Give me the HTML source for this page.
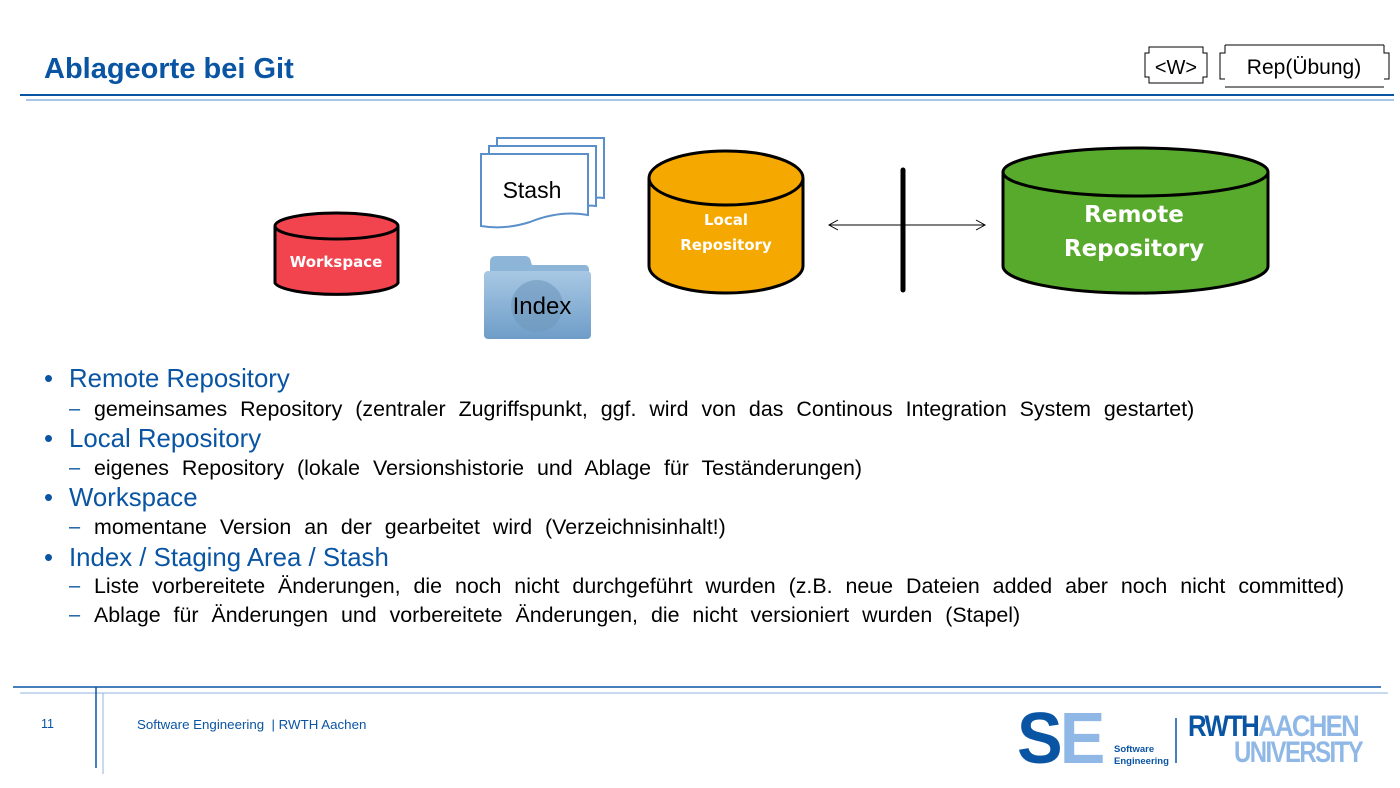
<!DOCTYPE html>
<html><head><meta charset="utf-8"><style>
body{margin:0;width:1400px;height:788px;background:#fff;position:relative;overflow:hidden;font-family:"Liberation Sans",Arial,sans-serif}
.a{position:absolute;white-space:nowrap}
.b{color:#0a55a3;font-size:25.8px}
.s{color:#000;font-size:21.4px;word-spacing:7px}
.d{color:#0a55a3;font-size:20px}
</style></head><body>
<div class="a" style="left:44px;top:53px;font-size:29px;font-weight:bold;color:#0a55a3">Ablageorte bei Git</div>
<div class="a" style="left:20px;top:94px;width:1374px;height:2px;background:#0a55a3"></div>
<div class="a" style="left:26px;top:99px;width:1368px;height:2px;background:#a9c6e8"></div>
<svg class="a" style="left:0;top:0" width="1400" height="788">
<g fill="none" stroke="#000" stroke-width="1">
<path d="M1149,47 H1203 V53 H1207 V77 H1203 V83 H1149 V77 H1145 V53 H1149 Z"/>
<path d="M1225,45 V53 H1220 V79 H1225 M1384,45 V53 H1389 V79 H1384 M1225,45 H1384 M1225,87 H1384"/>
</g>
<text x="1176" y="74" font-size="20" text-anchor="middle" font-family="Liberation Sans">&lt;W&gt;</text>
<text x="1304" y="74" font-size="21" text-anchor="middle" font-family="Liberation Sans">Rep(Übung)</text>
<path d="M275,226 V283 A62,13 0 0 0 398,283 V226" fill="#f2444f" stroke="#000" stroke-width="3"/>
<ellipse cx="336.5" cy="226" rx="61.5" ry="13" fill="#f2444f" stroke="#000" stroke-width="3"/>
<text x="336" y="267" font-size="15" font-weight="bold" fill="#fff" text-anchor="middle" font-family="DejaVu Sans">Workspace</text>
<path d="M649,178 V266 A77,27 0 0 0 803,266 V178" fill="#f5a800" stroke="#000" stroke-width="3"/>
<ellipse cx="726" cy="178" rx="77" ry="27" fill="#f5a800" stroke="#000" stroke-width="3"/>
<text x="726" y="225" font-size="15" font-weight="bold" fill="#fff" text-anchor="middle" font-family="DejaVu Sans">Local</text>
<text x="726" y="250" font-size="15" font-weight="bold" fill="#fff" text-anchor="middle" font-family="DejaVu Sans">Repository</text>
<path d="M1003,172 V266 A132,27 0 0 0 1268,266 V172" fill="#57aa2b" stroke="#000" stroke-width="3"/>
<ellipse cx="1135.5" cy="172" rx="132.5" ry="24" fill="#57aa2b" stroke="#000" stroke-width="3"/>
<text x="1134" y="222" font-size="23" font-weight="bold" fill="#fff" text-anchor="middle" font-family="DejaVu Sans">Remote</text>
<text x="1134" y="256" font-size="23" font-weight="bold" fill="#fff" text-anchor="middle" font-family="DejaVu Sans">Repository</text>
<line x1="829" y1="225" x2="985" y2="225" stroke="#000" stroke-width="1"/>
<path d="M838,220 L829,225 L838,230 M976,220 L985,225 L976,230" fill="none" stroke="#000"/>
<line x1="903" y1="170" x2="903" y2="290" stroke="#000" stroke-width="5" stroke-linecap="round"/>
<g fill="#fff" stroke="#5b8fc9" stroke-width="2">
<path d="M497,138 H604 V198 Q590,196 584,204 L497,200 Z"/>
<path d="M489,146 H596 V206 Q582,204 576,212 L489,208 Z"/>
<path d="M481,154 H588 V215 Q560,210 530,222 Q505,230 481,226 Z"/>
</g>
<text x="532" y="198" font-size="23" text-anchor="middle" font-family="Liberation Sans">Stash</text>
<defs><linearGradient id="g" x1="0" y1="0" x2="0" y2="1"><stop offset="0" stop-color="#a8c8e4"/><stop offset="1" stop-color="#6e9dc8"/></linearGradient></defs>
<path d="M490,262 Q490,256 496,256 H525 Q530,256 531,262 L532,265 H585 Q589,265 589,270 V280 H490 Z" fill="#8db5d8"/>
<rect x="484" y="271" width="107" height="68" rx="4" fill="url(#g)"/>
<circle cx="537" cy="306" r="26" fill="#6f97bd" opacity=".6"/>
<text x="542" y="314" font-size="24" text-anchor="middle" font-family="Liberation Sans">Index</text>
<line x1="13" y1="687" x2="1381" y2="687" stroke="#0a55a3" stroke-width="1.5"/>
<line x1="20" y1="693" x2="1388" y2="693" stroke="#8fb4e0" stroke-width="1"/>
<line x1="96" y1="687" x2="96" y2="768" stroke="#0a55a3" stroke-width="1.5"/>
<line x1="103" y1="693" x2="103" y2="774" stroke="#8fb4e0" stroke-width="1"/>
<line x1="1176" y1="718" x2="1176" y2="763" stroke="#0a55a3" stroke-width="1.5"/>
</svg>
<div class="a b" style="left:44px;top:365px">•</div><div class="a b" style="left:69px;top:365px">Remote Repository</div>
<div class="a d" style="left:69px;top:398px">–</div><div class="a s" style="left:94px;top:397px">gemeinsames Repository (zentraler Zugriffspunkt, ggf. wird von das Continous Integration System gestartet)</div>
<div class="a b" style="left:44px;top:425px">•</div><div class="a b" style="left:69px;top:425px">Local Repository</div>
<div class="a d" style="left:69px;top:457px">–</div><div class="a s" style="left:94px;top:456px">eigenes Repository (lokale Versionshistorie und Ablage für Teständerungen)</div>
<div class="a b" style="left:44px;top:484px">•</div><div class="a b" style="left:69px;top:484px">Workspace</div>
<div class="a d" style="left:69px;top:516px">–</div><div class="a s" style="left:94px;top:515px">momentane Version an der gearbeitet wird (Verzeichnisinhalt!)</div>
<div class="a b" style="left:44px;top:544px">•</div><div class="a b" style="left:69px;top:544px">Index / Staging Area / Stash</div>
<div class="a d" style="left:69px;top:575px">–</div><div class="a s" style="left:94px;top:574px">Liste vorbereitete Änderungen, die noch nicht durchgeführt wurden (z.B. neue Dateien added aber noch nicht committed)</div>
<div class="a d" style="left:69px;top:604px">–</div><div class="a s" style="left:94px;top:603px">Ablage für Änderungen und vorbereitete Änderungen, die nicht versioniert wurden (Stapel)</div>
<div class="a" style="left:41px;top:717px;font-size:12.5px;color:#0a55a3">11</div>
<div class="a" style="left:137px;top:717px;font-size:13.3px;color:#0a55a3">Software Engineering &nbsp;| RWTH Aachen</div>
<div class="a" style="left:1017px;top:706px;font-size:72px;font-weight:bold;letter-spacing:-3px;line-height:66px;transform:scaleX(.95);transform-origin:left"><span style="color:#0a55a3">S</span><span style="color:#8fb8e6">E</span></div>
<div class="a" style="left:1114px;top:744px;font-size:9.5px;color:#0a55a3;line-height:12px;font-weight:bold">Software<br>Engineering</div>
<div class="a" style="left:1188px;top:714px;font-size:30px;font-weight:bold;line-height:26px;letter-spacing:-2px;transform:scaleX(.86);transform-origin:left"><span style="color:#0a55a3">RWTH</span><span style="color:#8fb8e6">AACHEN</span></div>
<div class="a" style="left:1234px;top:740px;font-size:30px;font-weight:bold;line-height:26px;letter-spacing:-2px;color:#8fb8e6;transform:scaleX(.8);transform-origin:left">UNIVERSITY</div>
</body></html>
